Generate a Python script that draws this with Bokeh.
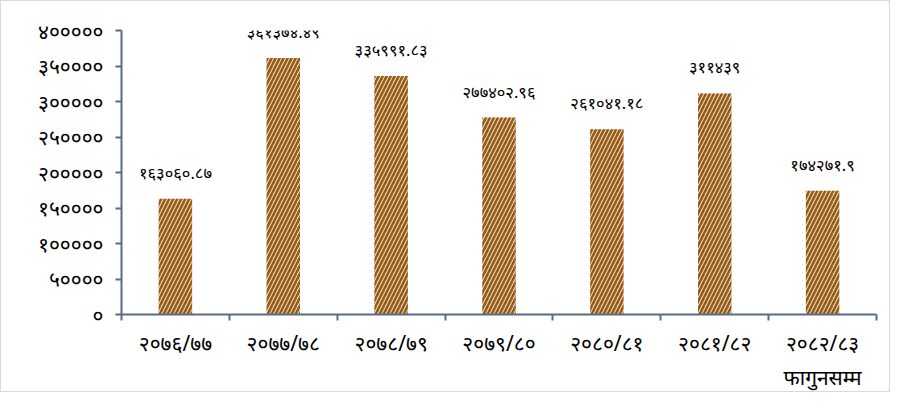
from bokeh.plotting import figure
from bokeh.models import FixedTicker, Range1d, ColumnDataSource
from bokeh.core.properties import value
from bokeh.embed import file_html
from bokeh.resources import INLINE

categories = ["२०७६/७७", "२०७७/७८", "२०७८/७९", "२०७९/८०", "२०८०/८१", "२०८१/८२", "२०८२/८३\nफागुनसम्म"]
values = [163060.87, 361374.49, 335991.83, 277402.96, 261041.18, 311439, 174271.9]
value_labels = ["१६३०६०.८७", "३६१३७४.४९", "३३५९९१.८३", "२७७४०२.९६", "२६१०४१.१८", "३११४३९", "१७४२७१.९"]
y_ticks = [0, 50000, 100000, 150000, 200000, 250000, 300000, 350000, 400000]
y_tick_labels = ["०", "५००००", "१०००००", "१५००००", "२०००००", "२५००००", "३०००००", "३५००००", "४०००००"]

FONT = "Noto Sans"
AXIS_COLOR = "#5b6b86"

xs = [i + 0.5 for i in range(len(categories))]
src = ColumnDataSource(dict(x=xs, top=values, label=value_labels))

p = figure(width=890, height=392, output_backend="svg", toolbar_location=None,
           x_range=Range1d(0, len(categories)), y_range=Range1d(0, 400000),
           min_border_left=120, min_border_right=15, min_border_top=29, min_border_bottom=78,
           styles={"border": "1px solid #d9d9d9", "box-sizing": "border-box"})
p.outline_line_color = None
p.grid.visible = False
p.background_fill_color = "white"
p.border_fill_color = "white"

p.vbar(x="x", top="top", width=0.31, source=src, fill_color="#FFCCFF", line_color=None,
       hatch_pattern="/", hatch_color="#8f6200", hatch_scale=8, hatch_weight=2.6)

p.text(x="x", y="top", text="label", source=src, y_offset=-15, text_align="center",
       text_baseline="bottom", text_font=value(FONT), text_font_size="16.5px", text_color="black")

# y axis
ya = p.yaxis[0]
ya.ticker = FixedTicker(ticks=y_ticks)
ya.major_label_overrides = {t: l for t, l in zip(y_ticks, y_tick_labels)}
ya.axis_line_color = AXIS_COLOR
ya.axis_line_width = 2
ya.major_tick_line_color = AXIS_COLOR
ya.major_tick_line_width = 2
ya.major_tick_out = 6
ya.major_tick_in = 0
ya.minor_tick_line_color = None
ya.major_label_standoff = 12
ya.major_label_text_font = FONT
ya.major_label_text_font_size = "21px"
ya.major_label_text_color = "black"

# x axis
xa = p.xaxis[0]
xa.ticker = FixedTicker(ticks=xs, minor_ticks=list(range(len(categories) + 1)))
xa.major_label_overrides = {x: c for x, c in zip(xs, categories)}
xa.axis_line_color = AXIS_COLOR
xa.axis_line_width = 2
xa.major_tick_out = 0
xa.major_tick_in = 0
xa.minor_tick_line_color = AXIS_COLOR
xa.minor_tick_line_width = 2
xa.minor_tick_out = 6
xa.minor_tick_in = 0
xa.major_label_standoff = 8
xa.major_label_text_font = FONT
xa.major_label_text_font_size = "21px"
xa.major_label_text_line_height = 1.22
xa.major_label_text_color = "black"

open("out.html", "w").write(file_html(p, INLINE))
